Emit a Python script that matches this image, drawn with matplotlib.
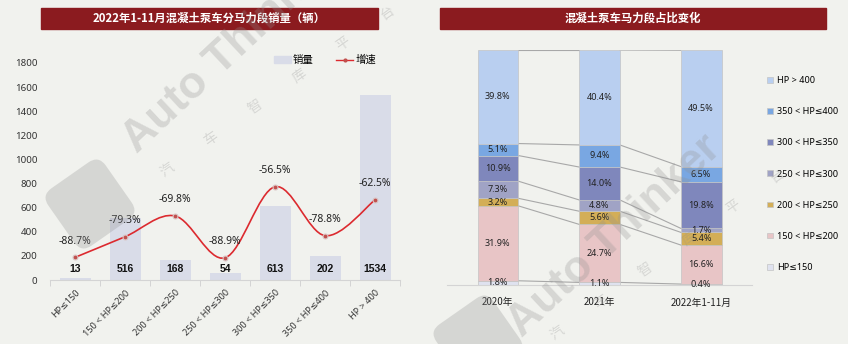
import numpy as np
import matplotlib.pyplot as plt
from matplotlib.patches import Rectangle, Patch, FancyBboxPatch, Ellipse, Circle, PathPatch
from matplotlib.lines import Line2D
from matplotlib.path import Path
from matplotlib.transforms import Affine2D

plt.rcParams['font.family'] = ['Noto Sans', 'DejaVu Sans', 'Noto Sans CJK SC']

# ---- data ----
categories = ['HP≤150', '150 < HP≤200', '200 < HP≤250', '250 < HP≤300',
              '300 < HP≤350', '350 < HP≤400', 'HP > 400']
sales = [13, 516, 168, 54, 613, 202, 1534]
growth = [-88.7, -79.3, -69.8, -88.9, -56.5, -78.8, -62.5]

years = ['2020年', '2021年', '2022年1-11月']
share_150 = [1.8, 1.1, 0.4]
share_200 = [31.9, 24.7, 16.6]
share_250 = [3.2, 5.6, 5.4]
share_300 = [7.3, 4.8, 1.7]
share_350 = [10.9, 14.0, 19.8]
share_400 = [5.1, 9.4, 6.5]
share_top = [39.8, 40.4, 49.5]
seg_labels = ['HP≤150', '150 < HP≤200', '200 < HP≤250', '250 < HP≤300',
              '300 < HP≤350', '350 < HP≤400', 'HP > 400']
seg_colors = ['#dfe2ef', '#e8c5c6', '#d3ae57', '#a0a3c5', '#7f87bc', '#79a7e2', '#b9cff0']

BG = '#f1f2ee'
DARKRED = '#8b1b1f'
RED = '#dc2a2f'
CJK = ['Noto Sans CJK SC', 'DejaVu Sans']
W, H = 848, 344

fig = plt.figure(figsize=(W / 100, H / 100), dpi=100, facecolor=BG)


def px(x, y):
    # pixel (from top-left) -> figure fraction
    return x / W, 1 - y / H


# title bars
for (x0, x1), title in [((41, 378), '2022年1-11月混凝土泵车分马力段销量（辆）'),
                        ((440, 826), '混凝土泵车马力段占比变化')]:
    fx, fy = px(x0, 29)
    fig.add_artist(Rectangle((fx, fy), (x1 - x0) / W, 21 / H, transform=fig.transFigure,
                             color=DARKRED, zorder=1))
    cx, cy = px((x0 + x1) / 2, 18.5)
    fig.text(cx, cy, title, color='white', fontsize=8.2, fontweight='bold',
             ha='center', va='center', family=CJK)

# ---- left chart ----
ax = fig.add_axes([50 / W, 1 - 280 / H, 350 / W, 217 / H])
ax.set_facecolor('none')
x = np.arange(len(categories))
ax.bar(x, sales, width=0.62, color='#d9dce8', zorder=2)
for xi, v in zip(x, sales):
    ax.text(xi, 90, str(v), ha='center', va='center', fontsize=7.5,
            fontweight='bold', family='Liberation Sans', color='#111111', zorder=5)
ax.set_xlim(-0.5, len(categories) - 0.5)
ax.set_ylim(0, 1800)
ax.set_yticks(range(0, 1801, 200))
ax.tick_params(axis='y', length=0, labelsize=7, labelcolor='#333333', pad=9)
ax.set_xticks(x)
ax.set_xticklabels(categories, rotation=45, ha='right', rotation_mode='anchor',
                   fontsize=6.5, color='#333333')
ax.tick_params(axis='x', which='major', length=0, pad=6)
ax.set_xticks(np.arange(-0.5, len(categories)), minor=True)
ax.tick_params(axis='x', which='minor', length=4, color='#cfcfcf')
for s in ['top', 'right', 'left']:
    ax.spines[s].set_visible(False)
ax.spines['bottom'].set_color('#d4d4d4')

ax2 = ax.twinx()
ax2.set_ylim(-99, -0.1)
ax2.set_yticks([])
for s in ax2.spines.values():
    s.set_visible(False)

# smooth curve through the growth points
pts = np.column_stack([x, growth])
verts = [pts[0]]
codes = [Path.MOVETO]
n = len(pts)
for i in range(n - 1):
    p0 = pts[max(i - 1, 0)]
    p1 = pts[i]
    p2 = pts[i + 1]
    p3 = pts[min(i + 2, n - 1)]
    verts += [p1 + (p2 - p0) / 6, p2 - (p3 - p1) / 6, p2]
    codes += [Path.CURVE4] * 3
ax2.add_patch(PathPatch(Path(verts, codes), fill=False, ec=RED, lw=1.2, zorder=3))
ax2.plot(x, growth, 'o', ms=3.5, mfc='#c0504d', mec='#d9c4c4', mew=0.8, zorder=4)
for xi, g in zip(x, growth):
    ax2.annotate(f'{g:.1f}%', (xi, g), xytext=(0, 11.5), textcoords='offset points',
                 ha='center', va='center', fontsize=7.5, color='#222222')

handles = [Patch(color='#d9dce8'),
           Line2D([], [], color=RED, lw=1, marker='o', ms=2, mfc='#c0504d', mec='#c0504d')]
ax.legend(handles, ['销量', '增速'], loc='center', ncol=2, frameon=False,
          bbox_to_anchor=(px(325, 60)), bbox_transform=fig.transFigure,
          prop={'family': CJK, 'size': 7.5}, handlelength=1.6, handleheight=0.6,
          handletextpad=0.2, columnspacing=2.2)

# ---- right chart ----
axr = fig.add_axes([447 / W, 1 - 285 / H, 305 / W, 235 / H])
axr.set_facecolor('none')
xr = np.arange(len(years))
bw = 0.4
series = [share_150, share_200, share_250, share_300, share_350, share_400, share_top]
bottom = np.zeros(len(years))
tops = []
for vals, col, lab in zip(series, seg_colors, seg_labels):
    vals = np.array(vals)
    axr.bar(xr, vals, width=bw, bottom=bottom, color=col, edgecolor='#c4c4c4',
            linewidth=0.5, label=lab, zorder=2)
    for xi, b, v in zip(xr, bottom, vals):
        axr.text(xi, b + v / 2, f'{v:.1f}%', ha='center', va='center',
                 fontsize=6.5, color='#222222', zorder=5)
    bottom = bottom + vals
    tops.append(bottom.copy())
# series lines between bars
for t in tops:
    for i in range(len(years) - 1):
        axr.plot([xr[i] + bw / 2, xr[i + 1] - bw / 2], [t[i], t[i + 1]],
                 color='#a8a8a8', lw=0.8, zorder=1)
axr.set_xlim(-0.5, len(years) - 0.5)
axr.set_ylim(0, 100)
axr.set_yticks([])
axr.set_xticks(xr)
axr.set_xticklabels(years, fontsize=7, color='#222222', family=CJK)
axr.tick_params(axis='x', length=0, pad=9)
for s in ['top', 'right', 'left']:
    axr.spines[s].set_visible(False)
axr.spines['bottom'].set_color('#d4d4d4')

h_, l_ = axr.get_legend_handles_labels()
axr.legend(h_[::-1], l_[::-1], loc='center left', bbox_to_anchor=px(759, 174),
           bbox_transform=fig.transFigure, frameon=False, fontsize=6.5,
           handlelength=0.6, handleheight=0.6, handletextpad=0.5, labelspacing=2.45)

# ---- watermark ----
wm_col = '#8f8f8f'
for (sx, sy) in [(137, 154), (522, 338)]:
    fx, fy = px(sx, sy)
    fig.text(fx, fy, 'Auto Thinker', rotation=43, rotation_mode='anchor',
             ha='left', va='baseline', fontsize=32, fontweight='bold',
             family='Liberation Sans', color=wm_col, alpha=0.28, zorder=10)
for (sx, sy) in [(167, 170), (557, 333)]:
    for k, ch in enumerate('汽车智库平台'):
        fx, fy = px(sx + 44 * k, sy - 31.5 * k)
        fig.text(fx, fy, ch, rotation=35, ha='center', va='center', fontsize=10,
                 family=CJK, color=wm_col, alpha=0.28, zorder=10)


def logo(cx, cy, side):
    cyu = H - cy
    rot = Affine2D().rotate_deg_around(cx, cyu, 35)
    sq = FancyBboxPatch((cx - side / 2, cyu - side / 2), side, side,
                        boxstyle='round,pad=0,rounding_size=%f' % (side * 0.18),
                        transform=rot, fc=wm_col, ec='none', alpha=0.28, zorder=10)
    fig.add_artist(sq)
    eye = Ellipse((cx, cyu), side * 0.8, side * 0.42, angle=43, fc=BG, ec='none',
                  alpha=0.9, zorder=11)
    fig.add_artist(eye)
    fig.add_artist(Circle((cx, cyu), side * 0.17, fc=wm_col, ec='none', alpha=0.35, zorder=12))


logo(90, 204, 70)
logo(478, 340, 70)

fig.savefig('out.png', dpi=100, facecolor=BG)
